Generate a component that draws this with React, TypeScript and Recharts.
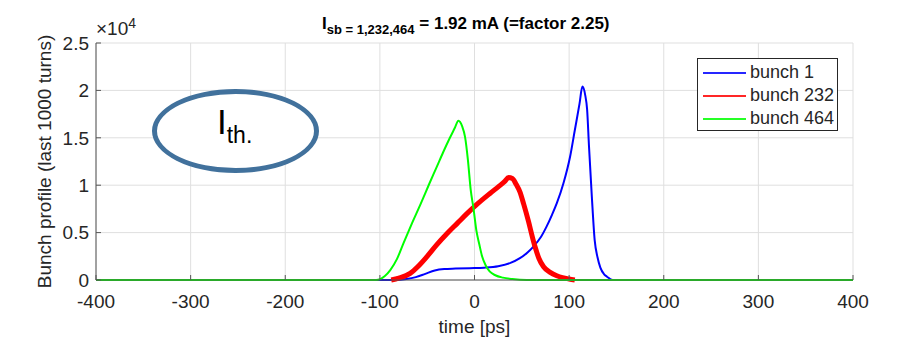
import { LineChart, Line, XAxis, YAxis, CartesianGrid, Legend } from 'recharts';

// time axis [ps] and tick labels
const xTicks = [-400, -300, -200, -100, 0, 100, 200, 300, 400];
const yTicks = [0, 5000, 10000, 15000, 20000, 25000];

// bunch 1 (blue)
const bunch1Time = [-400, -82, -72, -62, -52, -42, -32, -20, -5, 10, 25, 38, 48, 56, 62, 70, 76, 82, 87, 94, 101, 106, 111, 114, 117, 119, 121, 124, 127, 130, 133, 137, 140, 146, 400];
const bunch1Profile = [0, 0, 100, 300, 650, 1000, 1150, 1200, 1250, 1300, 1450, 1800, 2300, 2900, 3500, 4500, 5600, 6900, 8100, 10200, 13000, 15800, 18600, 20400, 19500, 18000, 14100, 8800, 4200, 2400, 1300, 600, 350, 0, 0];

// bunch 232 (red)
const bunch232Time = [-88, -80, -68, -60, -50, -40, -29, -18, -8, 4, 16, 26, 32, 36, 40, 44, 48, 52, 57, 61, 64, 68, 73, 80, 87, 93, 100, 106];
const bunch232Profile = [0, 200, 700, 1400, 2500, 3700, 4900, 6000, 7000, 8100, 9100, 9900, 10400, 10800, 10700, 10100, 9300, 8000, 6200, 4600, 3500, 2300, 1400, 800, 450, 250, 100, 0];

// bunch 464 (green)
const bunch464Time = [-400, -104, -95, -89, -82, -75, -66, -57, -48, -40, -33, -26, -21, -17, -13, -10, -7, -4, -1, 2, 5, 8, 12, 16, 22, 30, 40, 55, 400];
const bunch464Profile = [0, 0, 400, 1050, 2200, 3900, 6000, 8000, 10100, 11900, 13500, 15000, 16000, 16800, 16200, 15100, 12700, 9500, 7500, 5200, 3800, 2500, 1500, 900, 500, 250, 100, 0, 0];

const series = [
    { name: 'bunch 1', color: '#0000ff', width: 2, data: bunch1Time.map((t, i) => ({ t, v: bunch1Profile[i] })) },
    { name: 'bunch 232', color: '#ff0000', width: 5, data: bunch232Time.map((t, i) => ({ t, v: bunch232Profile[i] })) },
    { name: 'bunch 464', color: '#00ff00', width: 2, data: bunch464Time.map((t, i) => ({ t, v: bunch464Profile[i] })) },
];

const font = '"Liberation Sans", Arial, sans-serif';
const axisColor = '#262626';
const tickStyle = { fontSize: 19, fill: axisColor, fontFamily: font };

function LegendBox() {
    return (
        <div style={{ width: 141, height: 73, boxSizing: 'border-box', border: '1px solid #262626', background: 'white', paddingTop: 2 }}>
            {series.map(s => (
                <div key={s.name} style={{ display: 'flex', alignItems: 'center', height: 23, fontFamily: font, fontSize: 18, color: axisColor }}>
                    <div style={{ width: 43, height: 2, background: s.color, opacity: 0.85, marginLeft: 5, marginRight: 4 }} />
                    <span>{s.name}</span>
                </div>
            ))}
        </div>
    );
}

export default function App() {
    return (
        <div style={{ position: 'absolute', left: 0, top: 0, width: 898, height: 353, background: 'white' }}>
            <LineChart width={898} height={353} margin={{ top: 43, right: 45, left: 0, bottom: 0 }}>
                <CartesianGrid xAxisId="bottom" yAxisId="left" stroke="#dfdfdf" />
                <XAxis xAxisId="bottom" type="number" dataKey="t" domain={[-400, 400]} ticks={xTicks}
                    height={73} stroke="#555" tickSize={-5} tickMargin={20} tick={tickStyle} interval={0}
                    label={{ value: 'time [ps]', position: 'insideBottom', offset: 20, style: { fontSize: 19, fill: axisColor, fontFamily: font } }} />
                <XAxis xAxisId="top" orientation="top" type="number" dataKey="t" domain={[-400, 400]} ticks={xTicks}
                    height={0} stroke="#555" tickSize={-5} tick={false} />
                <YAxis yAxisId="left" type="number" domain={[0, 25000]} ticks={yTicks} width={96}
                    stroke="#555" tickSize={-5} tickMargin={12} tick={tickStyle} interval={0}
                    tickFormatter={(v: number) => String(v / 10000)}
                    label={{ value: 'Bunch profile (last 1000 turns)', angle: -90, position: 'insideLeft', offset: 44, style: { textAnchor: 'middle', fontSize: 19, fill: axisColor, fontFamily: font } }} />
                <YAxis yAxisId="right" orientation="right" type="number" domain={[0, 25000]} ticks={yTicks} width={0}
                    stroke="#555" tickSize={-5} tick={false} />
                {series.map(s => (
                    <Line key={s.name} xAxisId="bottom" yAxisId="left" data={s.data} dataKey="v" name={s.name} type="monotone"
                        stroke={s.color} strokeWidth={s.width} dot={false} isAnimationActive={false} />
                ))}
                <Legend layout="horizontal" verticalAlign="middle" align="center" content={<LegendBox />}
                    wrapperStyle={{ position: 'absolute', left: 697, top: 58, width: 141, height: 73 }} />
            </LineChart>

            {/* title */}
            <div style={{ position: 'absolute', left: 322, top: 15, fontFamily: font, fontWeight: 'bold', fontSize: 17, lineHeight: '17px', color: '#000', whiteSpace: 'nowrap' }}>
                I<span style={{ fontSize: 13, position: 'relative', top: 5 }}>sb = 1,232,464</span> = 1.92 mA (=factor 2.25)
            </div>

            {/* axis exponent */}
            <div style={{ position: 'absolute', left: 96, top: 19, fontFamily: font, fontSize: 19, lineHeight: '19px', color: axisColor, whiteSpace: 'nowrap' }}>
                ×10<span style={{ fontSize: 14, position: 'relative', top: -7 }}>4</span>
            </div>

            {/* I_th annotation */}
            <div style={{ position: 'absolute', left: 152, top: 89, width: 167, height: 84, boxSizing: 'border-box', border: '5.5px solid #41719c', borderRadius: '50%', background: 'white' }} />
            <div style={{ position: 'absolute', left: 217, top: 104, fontFamily: font, fontSize: 35, lineHeight: '35px', color: '#000', whiteSpace: 'nowrap' }}>
                I<span style={{ fontSize: 23, position: 'relative', top: 9 }}>th.</span>
            </div>
        </div>
    );
}
